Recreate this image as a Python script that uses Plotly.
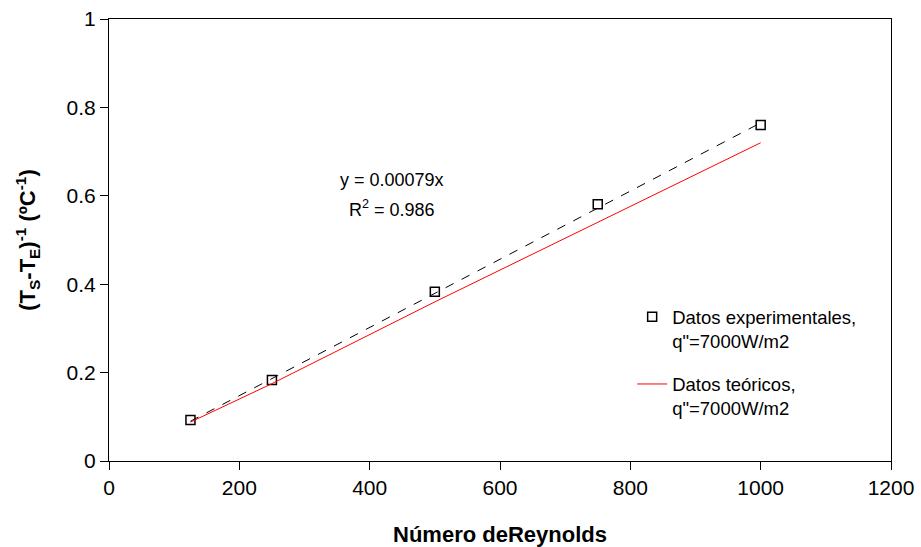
import plotly.graph_objects as go

# Data
reynolds = [125, 250, 500, 750, 1000]
exp_vals = [0.093, 0.183, 0.383, 0.581, 0.760]
theo_vals = [0.088, 0.175, 0.360, 0.540, 0.720]
trend_x = [125, 1000]
trend_y = [0.090, 0.765]

x_ticks = [0, 200, 400, 600, 800, 1000, 1200]
y_ticks = [0, 0.2, 0.4, 0.6, 0.8, 1]
y_tick_text = ["0", "0.2", "0.4", "0.6", "0.8", "1"]

FONT = "Liberation Sans, Arial, sans-serif"

fig = go.Figure()
fig.add_trace(go.Scatter(
    x=trend_x, y=trend_y, mode="lines",
    line=dict(color="black", width=1, dash="dash"),
    showlegend=False, hoverinfo="skip"))
fig.add_trace(go.Scatter(
    x=reynolds, y=exp_vals, mode="markers",
    marker=dict(symbol="square-open", size=9, color="black", line=dict(width=1.5, color="black")),
    name="Datos experimentales,<br>q\"=7000W/m2", legendgroup="a"))
fig.add_trace(go.Scatter(
    x=reynolds, y=theo_vals, mode="lines",
    line=dict(color="#ff0000", width=1),
    name="Datos teóricos,<br>q\"=7000W/m2", legendgroup="b"))

fig.add_annotation(
    x=435, y=0.636, xref="x", yref="y",
    text="y = 0.00079x",
    showarrow=False, font=dict(family=FONT, size=18, color="black"))
fig.add_annotation(
    x=435, y=0.572, xref="x", yref="y",
    text="R<sup>2</sup> = 0.986",
    showarrow=False, font=dict(family=FONT, size=18, color="black"))

fig.update_layout(
    width=921, height=547,
    margin=dict(l=109, r=30, t=19, b=86),
    paper_bgcolor="white", plot_bgcolor="white",
    font=dict(family=FONT, size=21, color="black"),
    legend=dict(
        x=0.669, y=0.368, xanchor="left", yanchor="top", valign="top",
        font=dict(family=FONT, size=18.5, color="black"),
        bgcolor="rgba(0,0,0,0)", tracegroupgap=16),
    xaxis=dict(
        range=[0, 1200], tickvals=x_ticks, automargin=False,
        showgrid=False, zeroline=False, ticklabeloverflow="allow",
        showline=True, linecolor="black", linewidth=1, mirror=True,
        ticks="outside", ticklen=8, tickcolor="black",
        tickfont=dict(family=FONT, size=21),
        title=dict(text="<b>Número deReynolds</b>", font=dict(family=FONT, size=22), standoff=29)),
    yaxis=dict(
        range=[0, 1], tickvals=y_ticks, ticktext=y_tick_text, automargin=False,
        showgrid=False, zeroline=False, ticklabeloverflow="allow",
        showline=True, linecolor="black", linewidth=1, mirror=True,
        ticks="outside", ticklen=8, tickcolor="black",
        tickfont=dict(family=FONT, size=21),
        title=dict(text="<b>(T<sub>S</sub>-T<sub>E</sub>)<sup>-1</sup> (ºC<sup>-1</sup>)</b>",
                   font=dict(family=FONT, size=22), standoff=24)),
)

fig.write_html("out.html", config={"displayModeBar": False},
               post_script="document.body.style.margin='0';")
